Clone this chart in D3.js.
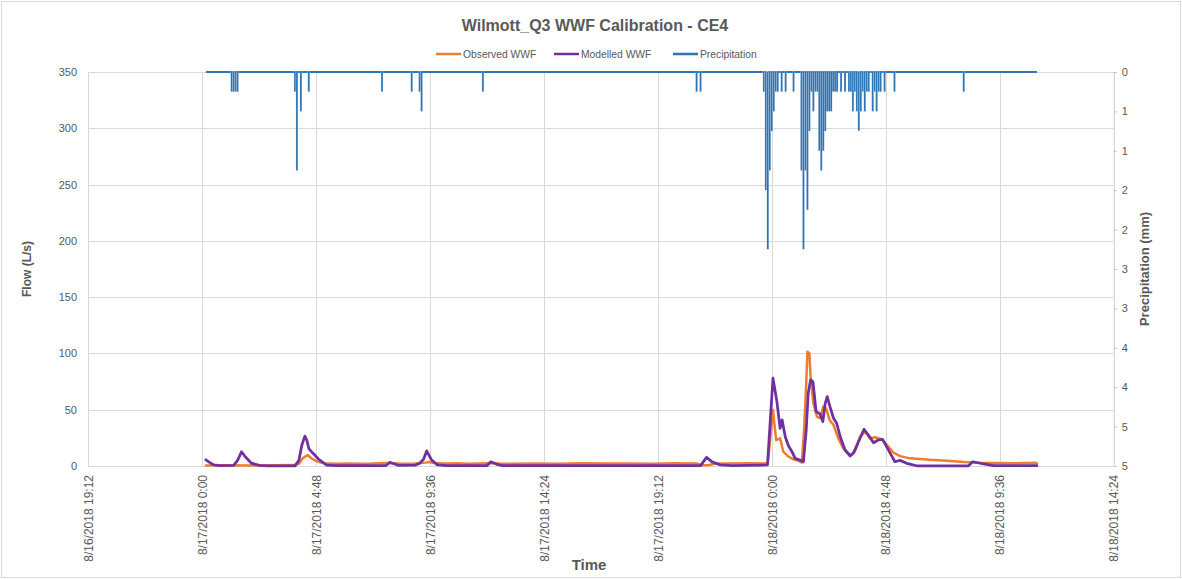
<!DOCTYPE html>
<html>
<head>
<meta charset="utf-8">
<script src="https://cdn.jsdelivr.net/npm/d3@7"></script>
<style>
  body { margin: 0; background: #fff; }
  text { font-family: "Liberation Sans", Arial, sans-serif; fill: #595959; }
</style>
</head>
<body>
<svg id="chart" width="1182" height="579"></svg>
<script>
const parseTime = d3.timeParse("%Y-%m-%d %H:%M");

// ---- Observed WWF (L/s) ----
const observedTimes = [
  "2018-08-17 00:10","2018-08-17 01:00","2018-08-17 02:00","2018-08-17 03:00","2018-08-17 03:55",
  "2018-08-17 04:05","2018-08-17 04:15","2018-08-17 04:27","2018-08-17 04:38","2018-08-17 04:48",
  "2018-08-17 05:00","2018-08-17 05:10","2018-08-17 05:40","2018-08-17 06:10","2018-08-17 06:40",
  "2018-08-17 07:10","2018-08-17 07:45","2018-08-17 08:00","2018-08-17 08:30","2018-08-17 09:00",
  "2018-08-17 09:25","2018-08-17 09:35","2018-08-17 09:45","2018-08-17 10:15","2018-08-17 10:45",
  "2018-08-17 11:15","2018-08-17 11:45","2018-08-17 12:10","2018-08-17 12:30","2018-08-17 13:00",
  "2018-08-17 14:00","2018-08-17 15:00","2018-08-17 16:00","2018-08-17 17:00","2018-08-17 18:00",
  "2018-08-17 19:00","2018-08-17 20:00","2018-08-17 20:50","2018-08-17 21:05","2018-08-17 21:20",
  "2018-08-17 21:35","2018-08-17 22:00","2018-08-17 23:00","2018-08-17 23:50",
  "2018-08-18 00:03","2018-08-18 00:11","2018-08-18 00:21","2018-08-18 00:29","2018-08-18 00:42",
  "2018-08-18 00:55","2018-08-18 01:07","2018-08-18 01:16","2018-08-18 01:22","2018-08-18 01:27",
  "2018-08-18 01:30","2018-08-18 01:35","2018-08-18 01:38","2018-08-18 01:45","2018-08-18 01:54",
  "2018-08-18 02:02","2018-08-18 02:10","2018-08-18 02:17","2018-08-18 02:26","2018-08-18 02:36",
  "2018-08-18 02:48","2018-08-18 03:01","2018-08-18 03:18","2018-08-18 03:30","2018-08-18 03:43",
  "2018-08-18 03:56","2018-08-18 04:08","2018-08-18 04:21","2018-08-18 04:38","2018-08-18 04:51",
  "2018-08-18 05:07","2018-08-18 05:24","2018-08-18 05:49","2018-08-18 06:14","2018-08-18 06:39",
  "2018-08-18 07:23","2018-08-18 08:05","2018-08-18 08:47","2018-08-18 10:11","2018-08-18 11:06",
  "2018-08-18 11:10"
];
const observedFlow = [
  0.5, 0.6, 0.5, 0.6, 0.8,
  2.0, 7.0, 9.8, 6.5, 4.5,
  3.0, 2.4, 2.0, 2.3, 2.1,
  2.2, 2.6, 2.5, 2.0, 2.2,
  3.0, 3.5, 2.6, 2.2, 2.4,
  2.1, 2.3, 2.6, 2.2, 2.0,
  2.3, 2.1, 2.4, 2.2, 2.3,
  2.1, 2.4, 2.2, 0.6, 0.6,
  2.0, 2.3, 2.4, 2.2,
  49.7, 23.0, 24.6, 12.7, 8.3,
  5.9, 4.7, 2.9, 34.9, 73.5,
  101.5, 100.0, 79.3, 55.7, 43.8,
  42.4, 52.7, 51.2, 40.9, 36.4,
  24.6, 15.7, 9.8, 12.7, 26.0,
  30.5, 24.6, 25.5, 23.7, 18.7,
  12.0, 8.8, 6.8, 6.3, 5.5,
  4.7, 3.5, 2.9, 2.4, 2.9,
  2.5
];

// ---- Modelled WWF (L/s) ----
const modelledTimes = [
  "2018-08-17 00:10","2018-08-17 00:20","2018-08-17 00:30","2018-08-17 00:45","2018-08-17 01:20",
  "2018-08-17 01:30","2018-08-17 01:40","2018-08-17 01:50","2018-08-17 02:05","2018-08-17 02:25",
  "2018-08-17 02:45","2018-08-17 03:55","2018-08-17 04:05","2018-08-17 04:12","2018-08-17 04:20",
  "2018-08-17 04:25","2018-08-17 04:30","2018-08-17 04:40","2018-08-17 04:55","2018-08-17 05:15",
  "2018-08-17 05:40","2018-08-17 07:45","2018-08-17 07:55","2018-08-17 08:15","2018-08-17 09:00",
  "2018-08-17 09:10","2018-08-17 09:20","2018-08-17 09:28","2018-08-17 09:40","2018-08-17 09:55",
  "2018-08-17 10:20","2018-08-17 12:00","2018-08-17 12:10","2018-08-17 12:25","2018-08-17 12:40",
  "2018-08-17 21:00","2018-08-17 21:15","2018-08-17 21:30","2018-08-17 21:50","2018-08-17 22:20",
  "2018-08-17 23:49",
  "2018-08-18 00:03","2018-08-18 00:13","2018-08-18 00:21","2018-08-18 00:26","2018-08-18 00:34",
  "2018-08-18 00:42","2018-08-18 00:51","2018-08-18 00:59","2018-08-18 01:11","2018-08-18 01:20",
  "2018-08-18 01:27","2018-08-18 01:32","2018-08-18 01:38","2018-08-18 01:44","2018-08-18 01:52",
  "2018-08-18 02:02","2018-08-18 02:09","2018-08-18 02:15","2018-08-18 02:20","2018-08-18 02:27",
  "2018-08-18 02:36","2018-08-18 02:44","2018-08-18 02:53","2018-08-18 03:05","2018-08-18 03:18",
  "2018-08-18 03:26","2018-08-18 03:39","2018-08-18 03:53","2018-08-18 04:04","2018-08-18 04:17",
  "2018-08-18 04:29","2018-08-18 04:40","2018-08-18 04:51","2018-08-18 05:03","2018-08-18 05:11",
  "2018-08-18 05:24","2018-08-18 05:41","2018-08-18 06:06","2018-08-18 08:17","2018-08-18 08:28",
  "2018-08-18 08:55","2018-08-18 09:20","2018-08-18 11:10"
];
const modelledFlow = [
  5.5, 3.0, 1.0, 0.3, 0.5,
  5.0, 12.7, 8.0, 2.5, 0.5,
  0.2, 0.1, 5.0, 18.0, 26.5,
  23.0, 15.5, 11.5, 6.0, 0.8,
  0.3, 0.4, 3.3, 0.6, 0.8,
  2.5, 6.0, 13.5, 5.5, 1.0,
  0.3, 0.3, 3.7, 1.5, 0.3,
  0.3, 7.7, 3.5, 1.0, 0.3,
  0.9,
  78.0, 57.0, 33.5, 41.0, 26.0,
  18.0, 12.7, 6.8, 5.3, 3.8,
  32.0, 64.6, 76.4, 75.0, 48.3,
  46.2, 39.4, 55.7, 61.6, 52.7,
  42.4, 37.9, 26.0, 14.2, 8.9,
  11.3, 21.6, 32.6, 27.5, 20.7,
  23.1, 23.7, 16.5, 9.0, 3.8,
  5.0, 2.4, 0.2, 0.2, 3.8,
  1.8, 0.3, 0.3
];

// ---- Precipitation (mm), 5-minute readings ----
const precipStart = "2018-08-17 00:10";
const precipEnd = "2018-08-18 11:10";
const precipTimes = [
  "2018-08-17 01:15","2018-08-17 01:20","2018-08-17 01:25","2018-08-17 01:30",
  "2018-08-17 03:55","2018-08-17 04:00","2018-08-17 04:10","2018-08-17 04:30",
  "2018-08-17 07:35","2018-08-17 08:50","2018-08-17 09:10","2018-08-17 09:15",
  "2018-08-17 11:50","2018-08-17 20:50","2018-08-17 21:00",
  "2018-08-17 23:40","2018-08-17 23:45","2018-08-17 23:50","2018-08-17 23:55",
  "2018-08-18 00:00","2018-08-18 00:05","2018-08-18 00:10","2018-08-18 00:15",
  "2018-08-18 00:25","2018-08-18 00:35","2018-08-18 00:55",
  "2018-08-18 01:15","2018-08-18 01:20","2018-08-18 01:25","2018-08-18 01:30",
  "2018-08-18 01:35","2018-08-18 01:40","2018-08-18 01:45","2018-08-18 01:50",
  "2018-08-18 01:55","2018-08-18 02:00","2018-08-18 02:05","2018-08-18 02:10",
  "2018-08-18 02:15","2018-08-18 02:20","2018-08-18 02:25","2018-08-18 02:30",
  "2018-08-18 02:35","2018-08-18 02:40","2018-08-18 02:45","2018-08-18 02:55",
  "2018-08-18 03:05","2018-08-18 03:15","2018-08-18 03:20","2018-08-18 03:25",
  "2018-08-18 03:30","2018-08-18 03:35","2018-08-18 03:40","2018-08-18 03:45",
  "2018-08-18 03:50","2018-08-18 03:55","2018-08-18 04:00","2018-08-18 04:05",
  "2018-08-18 04:15","2018-08-18 04:20","2018-08-18 04:25","2018-08-18 04:30",
  "2018-08-18 04:35","2018-08-18 04:45","2018-08-18 05:10","2018-08-18 08:05"
];
const precipValues = [
  0.25, 0.25, 0.25, 0.25,
  0.25, 1.25, 0.5, 0.25,
  0.25, 0.25, 0.25, 0.5,
  0.25, 0.25, 0.25,
  0.25, 1.5, 2.25, 1.25,
  0.75, 0.5, 0.25, 0.25,
  0.25, 0.25, 0.25,
  1.25, 2.25, 1.25, 1.75,
  0.75, 0.25, 0.5, 0.25,
  0.25, 1.0, 1.25, 1.0,
  0.75, 0.5, 0.5, 0.5,
  0.25, 0.25, 0.25, 0.25,
  0.25, 0.25, 0.25, 0.5,
  0.25, 0.5, 0.75, 0.5,
  0.25, 0.5, 0.25, 0.25,
  0.5, 0.25, 0.5, 0.25,
  0.25, 0.25, 0.25, 0.25
];

// ---- Axes ----
const xTickTimes = [
  "2018-08-16 19:12","2018-08-17 00:00","2018-08-17 04:48","2018-08-17 09:36","2018-08-17 14:24",
  "2018-08-17 19:12","2018-08-18 00:00","2018-08-18 04:48","2018-08-18 09:36","2018-08-18 14:24"
];
const flowTicks = [0, 50, 100, 150, 200, 250, 300, 350];
const precipTicks = [0, 0.5, 1, 1.5, 2, 2.5, 3, 3.5, 4, 4.5, 5];
const precipTickLabels = ["0", "1", "1", "2", "2", "3", "3", "4", "4", "5", "5"];

const seriesNames = ["Observed WWF", "Modelled WWF", "Precipitation"];
const seriesColors = ["#ed7d31", "#7030a0", "#2e75b6"];

// ---------------------------------------------------------------------------
const W = 1182, H = 579;
const plot = { left: 88, right: 1113.7, top: 72, bottom: 466 };
const gridColor = "#d9d9d9";

const svg = d3.select("#chart");

// outer chart frame
svg.append("rect")
  .attr("x", 1.5).attr("y", 1.5)
  .attr("width", W - 3).attr("height", H - 3)
  .attr("fill", "#fff").attr("stroke", "#d9d9d9").attr("stroke-width", 1);

const xTicks = xTickTimes.map(parseTime);
const x = d3.scaleTime()
  .domain([xTicks[0], xTicks[xTicks.length - 1]])
  .range([plot.left, plot.right]);
const yFlow = d3.scaleLinear().domain([0, 350]).range([plot.bottom, plot.top]);
const yPrecip = d3.scaleLinear().domain([0, 5]).range([plot.top, plot.bottom]);

// gridlines
const grid = svg.append("g").attr("stroke", gridColor).attr("stroke-width", 1);
grid.selectAll("line.h").data(flowTicks).join("line")
  .attr("x1", plot.left).attr("x2", plot.right)
  .attr("y1", d => Math.round(yFlow(d)) + 0.5).attr("y2", d => Math.round(yFlow(d)) + 0.5);
grid.selectAll("line.v").data(xTicks).join("line")
  .attr("x1", d => Math.round(x(d)) + 0.5).attr("x2", d => Math.round(x(d)) + 0.5)
  .attr("y1", plot.top).attr("y2", plot.bottom);

// left axis
const fmtTime = d3.timeFormat("%-m/%-d/%Y %-H:%M");
const gLeft = svg.append("g").attr("transform", `translate(${plot.left},0)`)
  .call(d3.axisLeft(yFlow).tickValues(flowTicks).tickSize(0).tickPadding(11));
gLeft.select(".domain").attr("stroke", gridColor);
gLeft.selectAll("text").attr("font-size", 11).attr("fill", "#595959")
  .attr("font-family", "Liberation Sans, Arial, sans-serif");

// right axis
const gRight = svg.append("g").attr("transform", `translate(${plot.right},0)`)
  .call(d3.axisRight(yPrecip).tickValues(precipTicks).tickSize(3).tickPadding(5)
    .tickFormat((d, i) => precipTickLabels[i]));
gRight.select(".domain").attr("stroke", gridColor);
gRight.selectAll(".tick line").attr("stroke", "#bfbfbf");
gRight.selectAll("text").attr("font-size", 11).attr("fill", "#595959")
  .attr("font-family", "Liberation Sans, Arial, sans-serif");

// bottom axis
const gBottom = svg.append("g").attr("transform", `translate(0,${plot.bottom})`)
  .call(d3.axisBottom(x).tickValues(xTicks).tickSize(0).tickFormat(fmtTime));
gBottom.select(".domain").attr("stroke", gridColor);
gBottom.selectAll("text")
  .attr("font-size", 12).attr("fill", "#595959")
  .attr("font-family", "Liberation Sans, Arial, sans-serif")
  .attr("transform", "rotate(-90)")
  .attr("x", -9).attr("y", 0).attr("dy", "0.35em")
  .style("text-anchor", "end");

// flow series
const toPoints = (times, vals) => times.map((t, i) => ({ t: parseTime(t), v: vals[i] }));
const observed = toPoints(observedTimes, observedFlow);
const modelled = toPoints(modelledTimes, modelledFlow);

const flowLine = d3.line().x(d => x(d.t)).y(d => yFlow(d.v));
const plotG = svg.append("g");
plotG.append("path").datum(observed)
  .attr("d", flowLine).attr("fill", "none")
  .attr("stroke", seriesColors[0]).attr("stroke-width", 2.5)
  .attr("stroke-linejoin", "round").attr("stroke-linecap", "round");
plotG.append("path").datum(modelled)
  .attr("d", flowLine).attr("fill", "none")
  .attr("stroke", seriesColors[1]).attr("stroke-width", 2.75)
  .attr("stroke-linejoin", "round").attr("stroke-linecap", "round");

// precipitation: zero line over the record, one column per 5-minute reading
const precip = toPoints(precipTimes, precipValues);
const pStart = parseTime(precipStart), pEnd = parseTime(precipEnd);
const slotW = x(d3.timeMinute.offset(pStart, 5)) - x(pStart);
const barW = slotW * 1.0;
plotG.append("path")
  .datum([{ t: pStart, v: 0 }, { t: pEnd, v: 0 }])
  .attr("d", d3.line().x(d => x(d.t)).y(d => yPrecip(d.v)))
  .attr("fill", "none").attr("stroke", seriesColors[2]).attr("stroke-width", 2);
plotG.selectAll("rect.precip").data(precip).join("rect")
  .attr("class", "precip")
  .attr("x", d => x(d.t) - barW / 2)
  .attr("y", yPrecip(0) - 1)
  .attr("width", barW)
  .attr("height", d => yPrecip(d.v) - yPrecip(0) + 1)
  .attr("fill", seriesColors[2])
  .attr("stroke", "#fff").attr("stroke-width", 0.3).attr("stroke-opacity", 0.6);

// title
svg.append("text").attr("x", 595).attr("y", 31).attr("text-anchor", "middle")
  .attr("font-size", 16).attr("font-weight", "bold")
  .text("Wilmott_Q3 WWF Calibration - CE4");

// legend
const legendX = [436, 554, 673];
const legend = svg.append("g");
seriesNames.forEach((name, i) => {
  legend.append("line")
    .attr("x1", legendX[i]).attr("x2", legendX[i] + 25)
    .attr("y1", 54).attr("y2", 54)
    .attr("stroke", seriesColors[i]).attr("stroke-width", 2.5);
  legend.append("text")
    .attr("x", legendX[i] + 27).attr("y", 57.5)
    .attr("font-size", 10.3).text(name);
});

// axis titles
svg.append("text")
  .attr("transform", `translate(27,${(plot.top + plot.bottom) / 2}) rotate(-90)`)
  .attr("text-anchor", "middle").attr("dy", "0.35em")
  .attr("font-size", 12).attr("font-weight", "bold")
  .text("Flow (L/s)");
svg.append("text")
  .attr("transform", `translate(1144,${(plot.top + plot.bottom) / 2}) rotate(-90)`)
  .attr("text-anchor", "middle").attr("dy", "0.35em")
  .attr("font-size", 13).attr("font-weight", "bold")
  .text("Precipitation (mm)");
svg.append("text")
  .attr("x", 589).attr("y", 570).attr("text-anchor", "middle")
  .attr("font-size", 15).attr("font-weight", "bold")
  .text("Time");
</script>
</body>
</html>
